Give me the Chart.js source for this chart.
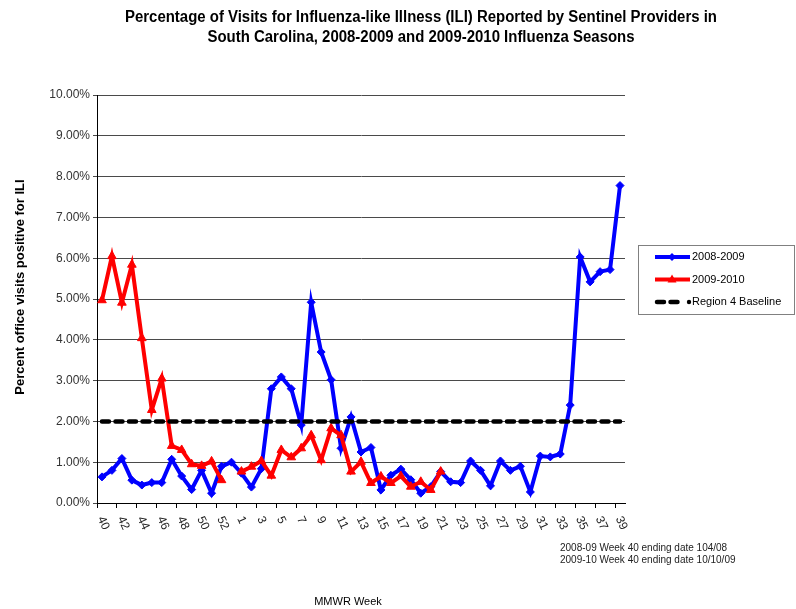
<!DOCTYPE html>
<html lang="en">
<head>
<meta charset="UTF-8">
<title>ILI - South Carolina sentinel providers</title>
<script src="https://cdn.jsdelivr.net/npm/chart.js@4"></script>
<style>
  html, body { margin: 0; padding: 0; background: #fff; }
  #wrap { width: 796px; height: 609px; position: relative; }
</style>
</head>
<body>
<div id="wrap"><canvas id="ili"></canvas></div>
<script>
// MMWR weeks, 40 -> 53 then 1 -> 39
const weeks = ['40','41','42','43','44','45','46','47','48','49','50','51','52','53',
  '1','2','3','4','5','6','7','8','9','10','11','12','13','14','15','16','17','18','19','20',
  '21','22','23','24','25','26','27','28','29','30','31','32','33','34','35','36','37','38','39'];

// percent of visits for ILI
const season0809 = [0.64, 0.80, 1.09, 0.56, 0.44, 0.50, 0.50, 1.07, 0.66, 0.33, 0.80, 0.24, 0.90, 1.00,
  0.73, 0.39, 0.84, 2.80, 3.09, 2.80, 1.91, 4.92, 3.70, 3.02, 1.34, 2.11, 1.25, 1.36, 0.32, 0.68,
  0.83, 0.57, 0.24, 0.40, 0.77, 0.52, 0.50, 1.03, 0.80, 0.42, 1.03, 0.80, 0.90, 0.27, 1.15, 1.13,
  1.20, 2.40, 6.03, 5.42, 5.67, 5.72, 7.78];

const season0910 = [4.97, 6.05, 4.91, 5.84, 4.04, 2.28, 3.05, 1.40, 1.30, 0.95, 0.91, 1.02, 0.56, null,
  0.77, 0.89, 1.03, 0.67, 1.30, 1.12, 1.34, 1.66, 1.05, 1.83, 1.66, 0.77, 1.01, 0.49, 0.65, 0.49,
  0.66, 0.40, 0.52, 0.32, 0.77];

const region4Baseline = [2, 2, 2, 2, 2, 2, 2, 2, 2, 2, 2, 2, 2, 2, 2, 2, 2, 2, 2, 2, 2, 2, 2, 2, 2, 2,
  2, 2, 2, 2, 2, 2, 2, 2, 2, 2, 2, 2, 2, 2, 2, 2, 2, 2, 2, 2, 2, 2, 2, 2, 2, 2, 2];

const yTicks = [0, 1, 2, 3, 4, 5, 6, 7, 8, 9, 10];

const titleLines = [
  'Percentage of Visits for Influenza-like Illness (ILI) Reported by Sentinel Providers in',
  'South Carolina, 2008-2009 and 2009-2010 Influenza Seasons'
];
const notes = [
  '2008-09 Week 40 ending date 104/08',
  '2009-10 Week 40 ending date 10/10/09'
];

const SANS = "'Liberation Sans', Arial, sans-serif";

// text that the chart draws round the plot: title, axis titles, week labels, legend, notes
const decor = {
  id: 'decor',
  afterDraw(chart) {
    const ctx = chart.ctx;
    const xs = chart.scales.x;
    ctx.save();
    ctx.fillStyle = '#000';

    // title: narrow look, squeeze the first line to the width of the original
    ctx.font = 'bold 16px ' + SANS;
    ctx.textAlign = 'center';
    ctx.textBaseline = 'middle';
    const squeeze = 592 / ctx.measureText(titleLines[0]).width;
    ctx.save();
    ctx.translate(421, 0);
    ctx.scale(squeeze, 1);
    ctx.fillText(titleLines[0], 0, 18);
    ctx.fillText(titleLines[1], 0, 38);
    ctx.restore();

    // y axis title
    ctx.save();
    ctx.translate(20, 287);
    ctx.rotate(-Math.PI / 2);
    ctx.font = 'bold 13px ' + SANS;
    ctx.fillText('Percent office visits positive for ILI', 0, 0);
    ctx.restore();

    // x axis title
    ctx.font = '11px ' + SANS;
    ctx.fillText('MMWR Week', 348, 602);

    // week labels, every other one, turned clockwise
    ctx.font = '12px ' + SANS;
    ctx.fillStyle = '#222';
    ctx.textAlign = 'left';
    weeks.forEach(function (w, i) {
      if (i % 2) return;
      const x = xs.getPixelForValue(i);
      ctx.save();
      ctx.translate(x - 1.5, xs.top + 14);
      ctx.rotate(65 * Math.PI / 180);
      ctx.fillText(w, 0, 0);
      ctx.restore();
    });

    // notes
    ctx.fillStyle = '#222';
    ctx.font = '10px ' + SANS;
    notes.forEach(function (n, i) {
      ctx.fillText(n, 560, 548 + i * 12);
    });

    // legend
    ctx.strokeStyle = '#808080';
    ctx.lineWidth = 1;
    ctx.strokeRect(638.5, 245.5, 156, 69);
    const rows = chart.data.datasets.slice().reverse();
    rows.forEach(function (ds, i) {
      const y = 257 + i * 22.5;
      ctx.save();
      ctx.strokeStyle = ds.borderColor;
      ctx.fillStyle = ds.borderColor;
      ctx.lineWidth = ds.borderWidth;
      ctx.lineCap = ds.borderDash ? 'round' : 'butt';
      ctx.setLineDash(ds.borderDash || []);
      ctx.beginPath();
      ctx.moveTo(ds.borderDash ? 657 : 655, y);
      ctx.lineTo(ds.borderDash ? 682 : 690, y);
      ctx.stroke();
      ctx.setLineDash([]);
      ctx.beginPath();
      if (ds.pointStyle === 'rectRot') {
        ctx.moveTo(672, y - 4); ctx.lineTo(676, y); ctx.lineTo(672, y + 4); ctx.lineTo(668, y);
      } else if (ds.pointStyle === 'triangle') {
        ctx.moveTo(672, y - 5); ctx.lineTo(676.5, y + 3); ctx.lineTo(667.5, y + 3);
      } else {
        ctx.arc(689, y, 2.2, 0, Math.PI * 2);
      }
      ctx.closePath();
      ctx.fill();
      ctx.restore();
      ctx.fillStyle = '#000';
      ctx.font = '11px ' + SANS;
      ctx.textBaseline = 'middle';
      ctx.fillText(ds.label, 692, y);
    });
    ctx.restore();
  }
};

new Chart(document.getElementById('ili'), {
  type: 'line',
  data: {
    labels: weeks,
    datasets: [
      {
        label: 'Region 4 Baseline',
        data: region4Baseline,
        borderColor: '#000000',
        borderWidth: 4.5,
        borderDash: [7, 6.5],
        borderCapStyle: 'round',
        pointRadius: 0,
        tension: 0
      },
      {
        label: '2009-2010',
        data: season0910,
        borderColor: '#ff0000',
        backgroundColor: '#ff0000',
        borderWidth: 4,
        pointStyle: 'triangle',
        pointRadius: 5,
        pointBorderWidth: 1,
        tension: 0
      },
      {
        label: '2008-2009',
        data: season0809,
        borderColor: '#0000ff',
        backgroundColor: '#0000ff',
        borderWidth: 4,
        pointStyle: 'rectRot',
        pointRadius: 4,
        pointBorderWidth: 1,
        tension: 0
      }
    ]
  },
  options: {
    responsive: true,
    maintainAspectRatio: false,
    animation: false,
    devicePixelRatio: 1,
    layout: { padding: { top: 95, right: 171, bottom: 0, left: 0 } },
    plugins: {
      legend: { display: false },
      title: { display: false },
      tooltip: { enabled: false }
    },
    scales: {
      x: {
        offset: true,
        afterFit: function (scale) { scale.height = 106; },
        grid: {
          offset: true,
          drawOnChartArea: false,
          drawTicks: true,
          tickLength: 5,
          color: function (c) { return c.index % 2 === 0 ? '#000' : 'rgba(0,0,0,0)'; }
        },
        border: { display: true, color: '#000', width: 1 },
        ticks: { display: false, autoSkip: false }
      },
      y: {
        min: 0,
        max: 10,
        afterFit: function (scale) { scale.width = 97; },
        afterBuildTicks: function (scale) {
          scale.ticks = yTicks.map(function (v) { return { value: v }; });
        },
        grid: { color: '#4a4a4a', lineWidth: 1, drawTicks: true, tickLength: 4 },
        border: { display: true, color: '#000', width: 1 },
        ticks: {
          padding: 3,
          color: '#333',
          font: { family: SANS, size: 12 },
          callback: function (v) { return v.toFixed(2) + '%'; }
        }
      }
    }
  },
  plugins: [decor]
});
</script>
</body>
</html>
